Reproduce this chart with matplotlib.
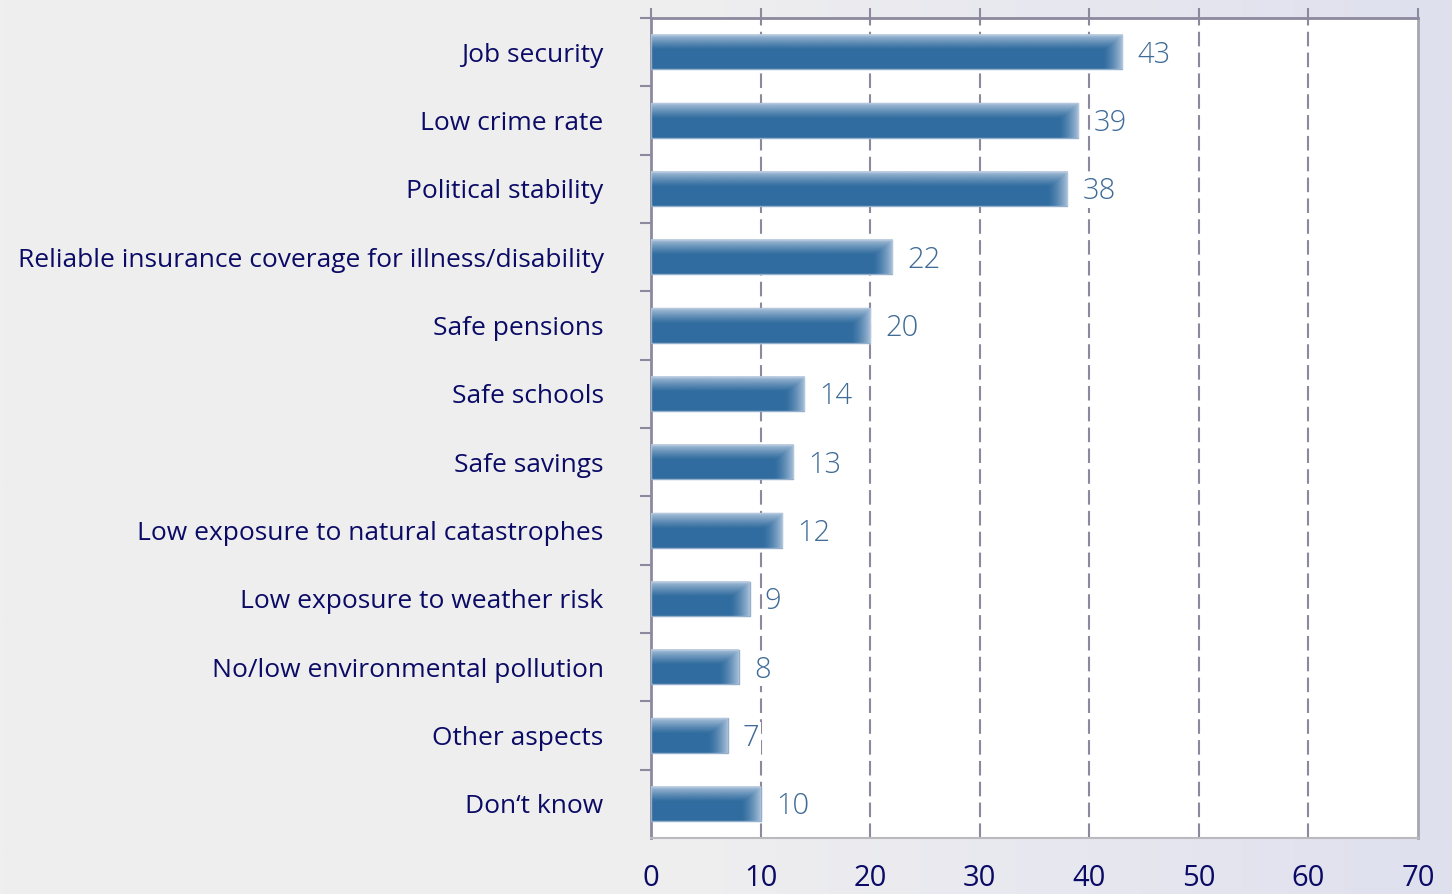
"""Reasons / aspects bar chart (horizontal bars, percent)."""
import numpy as np
import matplotlib
matplotlib.use('Agg')
import matplotlib.pyplot as plt
from matplotlib.colors import LinearSegmentedColormap, to_rgb

plt.rcParams['font.family'] = ['Open Sans', 'DejaVu Sans']

# Datos
categorias = ['Job security', 'Low crime rate', 'Political stability',
              'Reliable insurance coverage for illness/disability',
              'Safe pensions', 'Safe schools', 'Safe savings',
              'Low exposure to natural catastrophes',
              'Low exposure to weather risk',
              'No/low environmental pollution', 'Other aspects',
              'Don\u2018t know']
valores = [43, 39, 38, 22, 20, 14, 13, 12, 9, 8, 7, 10]
xticks = [0, 10, 20, 30, 40, 50, 60, 70]

navy = '#0b0b66'
azul_barra = '#306c9f'
azul_claro = '#b8cbe0'
azul_texto = '#3f6b96'
gris_eje = '#8c899f'

fig = plt.figure(figsize=(14.52, 8.94), dpi=100)

# Fondo con degradado de gris a lavanda
bg = fig.add_axes([0, 0, 1, 1], zorder=-10)
cmap_bg = LinearSegmentedColormap.from_list('bg', ['#efefef', '#eeeef0',
                                                   '#dfe0ee'])
bg.imshow(np.linspace(0, 1, 512)[None, :], aspect='auto', cmap=cmap_bg,
          extent=(0, 1, 0, 1))
bg.axis('off')

ax = fig.add_axes([0.4483, 0.0626, 0.5283, 0.9173])
ax.set_facecolor('white')

n = len(categorias)
pos = np.arange(n)[::-1]
h = 0.5

ax.barh(pos, valores, height=h, color=azul_barra, edgecolor='#93afcb',
        linewidth=1, zorder=3)

# Degradado claro arriba y a la derecha de cada barra
rgb = to_rgb(azul_claro)
for p, v in zip(pos, valores):
    xs = np.linspace(0, v, 600)
    ts = np.linspace(0, 1, 80)[:, None]
    ancho = 1.9
    derecha = np.clip((xs - (v - ancho)) / ancho, 0, 1)[None, :] ** 1.6
    arriba = np.clip(1 - ts / 0.45, 0, 1) ** 1.2
    alfa = np.maximum(derecha, arriba) * 0.9
    img = np.zeros((80, 600, 4))
    img[..., 0], img[..., 1], img[..., 2] = rgb
    img[..., 3] = alfa
    ax.imshow(img, extent=(0, v, p - h / 2, p + h / 2), origin='upper',
              aspect='auto', zorder=4, interpolation='bilinear')
    ax.annotate(str(v), (v, p), xytext=(11, -2), textcoords='offset points',
                va='center', ha='left', fontsize=21, color=azul_texto,
                fontweight='light', zorder=5,
                bbox=dict(boxstyle='square,pad=0.05', fc='white', ec='none'))

ax.set_xlim(0, 70)
ax.set_ylim(-0.5, n - 0.5)

# Rejilla vertical discontinua
for x in xticks[1:-1]:
    ax.axvline(x, color=gris_eje, lw=1.5, dashes=(7, 3), zorder=1)

ax.set_yticks(pos)
ax.set_yticklabels(categorias, fontsize=19, color=navy)
ax.set_yticks(np.arange(n) + 0.5, minor=True)
ax.tick_params(axis='y', which='major', length=0, pad=34)
ax.tick_params(axis='y', which='minor', length=8, width=1.5, color=gris_eje)

ax.set_xticks(xticks)
ax.set_xticklabels([str(x) for x in xticks], fontsize=21, color=navy)
ax.tick_params(axis='x', which='major', top=True, bottom=False,
               labeltop=False, labelbottom=True, length=7, width=1.5,
               color=gris_eje, pad=12)

ax.spines['top'].set_color(gris_eje)
ax.spines['top'].set_linewidth(2)
ax.spines['left'].set_color(gris_eje)
ax.spines['left'].set_linewidth(2)
ax.spines['bottom'].set_color('#b9b9be')
ax.spines['bottom'].set_linewidth(1.5)
ax.spines['right'].set_color('#a6a6ad')
ax.spines['right'].set_linewidth(2)

fig.savefig('out.png', dpi=100)
